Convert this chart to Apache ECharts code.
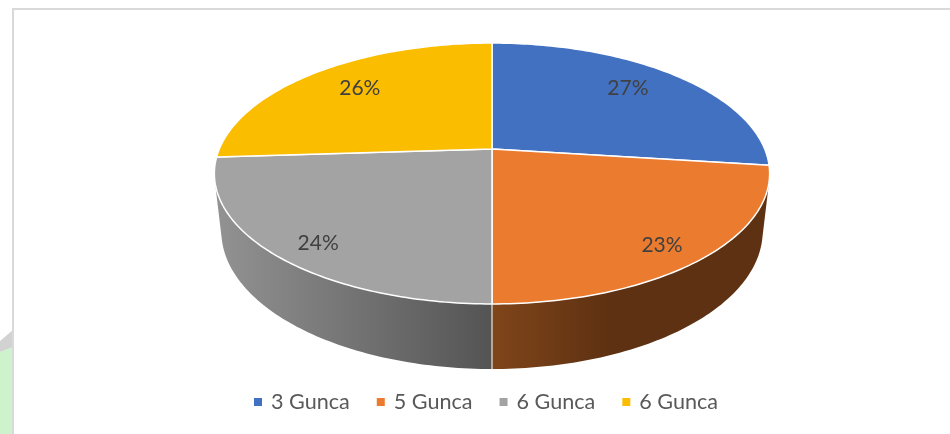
<!DOCTYPE html>
<html>
<head>
<meta charset="utf-8">
<style>html,body{margin:0;padding:0;background:#fff}#chart{width:950px;height:434px}</style>
<script src="https://cdn.jsdelivr.net/npm/echarts@6/dist/echarts.min.js"></script>
</head>
<body>
<div id="chart"></div>
<script>
// Data
const categories = ['3 Gunca', '5 Gunca', '6 Gunca', '6 Gunca'];
const percents = [27, 23, 24, 26];
const sliceColors = ['#4371c1', '#eb7b2f', '#a3a3a3', '#fbbd00'];

// Perspective of the disc (projective map from the unit circle to the screen)
const cx = 492, kx = 272.7, ay = 97.9, by = 149, cw = -0.1877;
const depthW = 0.0248, nadirY = 2500;
function project(u, v, lower) {
  const w = cw * v + 1 + (lower ? depthW : 0);
  const y = ay * v + by + (lower ? depthW * nadirY : 0);
  return [cx + kx * u / w, y / w];
}
function rim(deg, lower, r) {
  const t = deg * Math.PI / 180, rr = r === undefined ? 1 : r;
  return project(rr * Math.sin(t), -rr * Math.cos(t), lower);
}
const total = percents.reduce((a, b) => a + b, 0);
const starts = percents.map((_, i) => percents.slice(0, i).reduce((a, b) => a + b, 0) / total * 360);
const ends = percents.map((_, i) => percents.slice(0, i + 1).reduce((a, b) => a + b, 0) / total * 360);
// label placement inside each slice: radius fraction, angle offset
const labelRadius = [0.765, 0.861, 0.861, 0.754];
const labelTurn = [-2.8, 2.1, -2.7, 1.8];
// Wall shading of the two front slices
const wallStops = {
  1: { from: 492, to: 770, stops: [[0, '#80451a'], [0.42, '#5e3112'], [1, '#5e3112']] },
  2: { from: 214, to: 492, stops: [[0, '#939393'], [1, '#545454']] }
};

function arcPoints(a, b, lower) {
  const pts = [], n = Math.max(1, Math.ceil(Math.abs(b - a)));
  for (let i = 0; i <= n; i++) pts.push(rim(a + (b - a) * i / n, lower));
  return pts;
}
// angle in [a,b] where the disc's side silhouette touches the rim
function silhouetteAngle(a, b) {
  let best = a, bestV = -1;
  for (let d = a; d <= b; d += 0.25) {
    const p = rim(d, false);
    const s = Math.abs(p[0] - cx) / (nadirY - p[1]);
    if (s > bestV) { bestV = s; best = d; }
  }
  return best;
}
function renderSlice(idx) {
  return function () {
    const a = starts[idx], b = ends[idx], children = [];
    if (wallStops[idx]) {
      const g = wallStops[idx];
      const s = silhouetteAngle(a, b);
      const from = idx === 1 ? s : a, to = idx === 1 ? b : s;
      const wall = arcPoints(from, to, false).concat(arcPoints(from, to, true).reverse());
      children.push({
        type: 'polygon', shape: { points: wall },
        style: { fill: { type: 'linear', x: g.from, y: 0, x2: g.to, y2: 0, global: true,
          colorStops: g.stops.map(st => ({ offset: st[0], color: st[1] })) } }
      });
    }
    if (idx === 2) {
      const p = rim(a, false), q = rim(a, true);
      children.push({ type: 'line', shape: { x1: p[0], y1: p[1], x2: q[0], y2: q[1] },
        style: { stroke: '#e8e8e8', lineWidth: 1.2 } });
    }
    const top = [project(0, 0, false)].concat(arcPoints(a, b, false));
    children.push({ type: 'polygon', shape: { points: top },
      style: { fill: sliceColors[idx], stroke: '#ffffff', lineWidth: 1.5, lineJoin: 'round' } });
    const lp = rim((a + b) / 2 + labelTurn[idx], false, labelRadius[idx]);
    children.push({ type: 'text', z2: 10,
      style: { text: percents[idx] + '%', x: lp[0], y: lp[1] + 0.5, align: 'center', verticalAlign: 'middle',
        fontFamily: 'Lato', fontSize: 21, fill: '#404040' } });
    return { type: 'group', children: children };
  };
}

// the two "6 Gunca" entries need distinct internal keys for the legend
const legendKeys = categories.map((c, i) => c + ' '.repeat(i));
const chart = echarts.init(document.getElementById('chart'), null, { renderer: 'canvas' });
chart.setOption({
  animation: false,
  backgroundColor: '#ffffff',
  legend: {
    left: 249, top: 386, itemWidth: 8, itemHeight: 8, itemGap: 27, icon: 'rect',
    selectedMode: false,
    data: legendKeys,
    formatter: n => n.trim(),
    textStyle: { fontFamily: 'Lato', fontSize: 21.6, color: '#595959', padding: [0, 0, 0, 4] }
  },
  graphic: [
    { type: 'polygon', silent: true, z: -2, shape: { points: [[0, 352], [13, 347], [13, 434], [0, 434]] }, style: { fill: '#ccf3cc' } },
    { type: 'polygon', silent: true, z: -2, shape: { points: [[0, 341], [13, 330], [13, 347], [0, 352]] }, style: { fill: '#d2d2d2' } },
    { type: 'line', silent: true, z: -1, shape: { x1: 13, y1: 9, x2: 950, y2: 9 }, style: { stroke: '#d9d9d9', lineWidth: 2 } },
    { type: 'line', silent: true, z: -1, shape: { x1: 13, y1: 8, x2: 13, y2: 434 }, style: { stroke: '#d9d9d9', lineWidth: 2 } }
  ],
  series: percents.map((p, i) => ({
    type: 'custom',
    name: legendKeys[i],
    coordinateSystem: 'none',
    itemStyle: { color: sliceColors[i] },
    renderItem: renderSlice(i),
    data: [{ name: categories[i], value: p }]
  }))
});
</script>
</body>
</html>
